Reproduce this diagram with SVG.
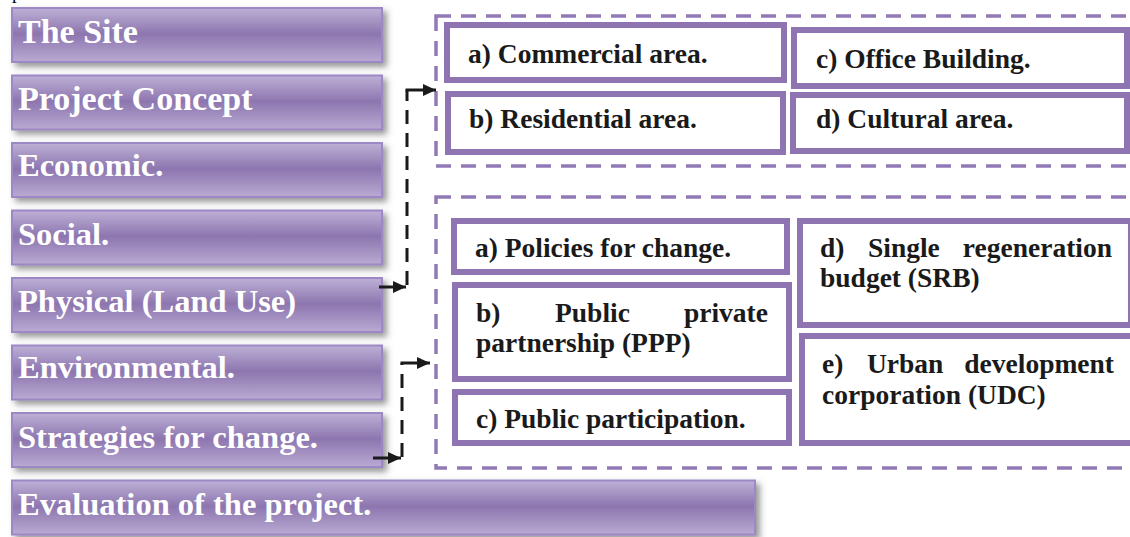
<svg xmlns="http://www.w3.org/2000/svg" width="1130" height="537" viewBox="0 0 1130 537">
<defs>
<linearGradient id="lg" x1="0" y1="0" x2="0" y2="1">
<stop offset="0" stop-color="#bdb0d6"/>
<stop offset="0.48" stop-color="#8d76af"/>
<stop offset="1" stop-color="#b9aad3"/>
</linearGradient>
<filter id="sh" x="-5%" y="-20%" width="115%" height="150%">
<feDropShadow dx="4" dy="4" stdDeviation="3" flood-color="#444" flood-opacity="0.55"/>
</filter>
<marker id="ah" markerUnits="userSpaceOnUse" markerWidth="13" markerHeight="12" refX="13" refY="6" orient="auto">
<path d="M0,0 L13,6 L0,12 z" fill="#1a1a1a"/>
</marker>
<style>
.lb rect{fill:url(#lg);stroke:#9c88c4;stroke-width:2;filter:url(#sh)}
.lb text{font-family:"Liberation Serif","Times New Roman",serif;font-weight:bold;fill:#fff;font-size:32.5px}
.cont{fill:none;stroke:#9179b6;stroke-width:3.5;stroke-dasharray:15 10}
.ib rect{fill:#fff;stroke:#8e74b0;stroke-width:6}
.ib text{font-family:"Liberation Serif","Times New Roman",serif;font-weight:bold;fill:#1a1a1a;font-size:27.5px}
.dl{fill:none;stroke:#1a1a1a;stroke-width:3;stroke-dasharray:14 9}
.ar{stroke:#1a1a1a;stroke-width:3;marker-end:url(#ah)}
</style>
</defs>
<rect width="1130" height="537" fill="#fff"/>
<text x="12" y="-1" font-family="Liberation Serif, serif" font-size="19" fill="#000">p</text>

<g class="lb" id="n-site"><rect x="12" y="8" width="370" height="54"/><text x="18" y="43" style="font-size:34px">The Site</text></g>
<g class="lb" id="n-concept"><rect x="12" y="75.5" width="370" height="54"/><text x="18" y="110" style="font-size:34px">Project Concept</text></g>
<g class="lb" id="n-economic"><rect x="12" y="143" width="370" height="54"/><text x="18" y="176">Economic.</text></g>
<g class="lb" id="n-social"><rect x="12" y="210.5" width="370" height="54"/><text x="18" y="245">Social.</text></g>
<g class="lb" id="n-physical"><rect x="12" y="278" width="370" height="54"/><text x="18" y="312">Physical (Land Use)</text></g>
<g class="lb" id="n-env"><rect x="12" y="345.5" width="370" height="54"/><text x="18" y="378">Environmental.</text></g>
<g class="lb" id="n-strat"><rect x="12" y="413" width="370" height="54"/><text x="18" y="448">Strategies for change.</text></g>
<g class="lb" id="n-eval"><rect x="12" y="480.5" width="743" height="54"/><text x="18" y="515">Evaluation of the project.</text></g>

<g id="land-use-group">
<rect class="cont" x="436" y="16" width="720" height="150"/>
<g class="ib" id="n-commercial"><rect x="447" y="25" width="337" height="55"/><text x="468" y="63">a) Commercial area.</text></g>
<g class="ib" id="n-office"><rect x="794" y="30" width="333" height="56"/><text x="816" y="68">c) Office Building.</text></g>
<g class="ib" id="n-residential"><rect x="448" y="94" width="335" height="58"/><text x="469" y="128">b) Residential area.</text></g>
<g class="ib" id="n-cultural"><rect x="793" y="95" width="334" height="56"/><text x="816" y="128">d) Cultural area.</text></g>
</g>

<g id="strategies-group">
<rect class="cont" x="436" y="197" width="720" height="271"/>
<g class="ib" id="n-policies"><rect x="454" y="221" width="333" height="51"/><text x="475" y="257">a) Policies for change.</text></g>
<g class="ib" id="n-ppp"><rect x="455" y="285" width="334" height="94"/>
<text x="476" y="322">b)</text><text x="555" y="322">Public</text><text x="768" y="322" text-anchor="end">private</text>
<text x="476" y="352">partnership (PPP)</text></g>
<g class="ib" id="n-participation"><rect x="455" y="392" width="334" height="51"/><text x="476" y="428">c) Public participation.</text></g>
<g class="ib" id="n-srb"><rect x="800" y="221" width="331" height="104"/>
<text x="820" y="257">d)</text><text x="868" y="257">Single</text><text x="1112" y="257" text-anchor="end">regeneration</text>
<text x="820" y="287">budget (SRB)</text></g>
<g class="ib" id="n-udc"><rect x="802" y="336" width="340" height="107"/>
<text x="822" y="373">e)</text><text x="867" y="373">Urban</text><text x="1114" y="373" text-anchor="end">development</text>
<text x="822" y="404">corporation (UDC)</text></g>
</g>

<g id="connectors">
<line class="ar" x1="379" y1="287" x2="406" y2="287"/>
<path class="dl" d="M407,285 V90"/>
<line class="ar" x1="405.5" y1="90" x2="436" y2="90"/>
<path class="dl" d="M402,457 V363"/>
<line class="ar" x1="400.5" y1="363" x2="430" y2="363"/>
<line class="ar" x1="373" y1="458" x2="401" y2="458"/>
</g>
</svg>
